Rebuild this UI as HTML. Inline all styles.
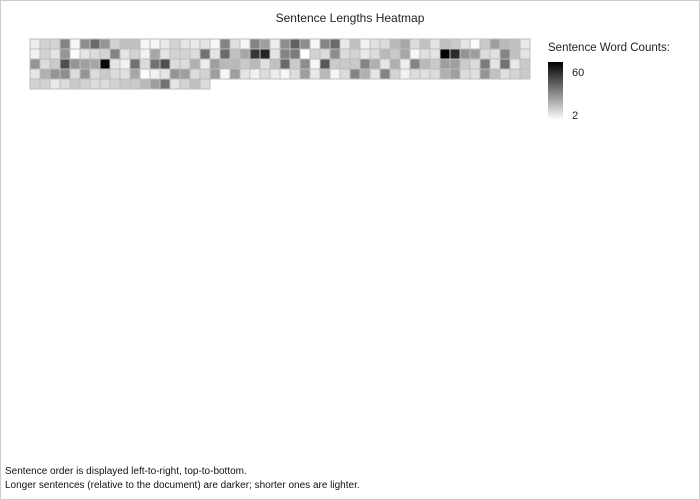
<!DOCTYPE html>
<html><head><meta charset="utf-8"><style>
body{margin:0;background:#fff;}
#wrap{position:relative;width:698px;height:498px;border:1px solid #ccc;font-family:"Liberation Sans",sans-serif;overflow:hidden;}
svg{position:absolute;left:0;top:0;}
</style></head><body>
<div id="wrap">
<svg id="chart" width="698" height="498">
<text x="349" y="21" text-anchor="middle" font-size="12" fill="#222">Sentence Lengths Heatmap</text>
<defs><linearGradient id="cb" x1="0" y1="0" x2="0" y2="1"><stop offset="0" stop-color="#000"/><stop offset="1" stop-color="#fff"/></linearGradient></defs>
<text x="547" y="50" font-size="11.5" fill="#222">Sentence Word Counts:</text>
<rect x="547" y="61" width="15" height="58" fill="url(#cb)"/>
<text x="571" y="75" font-size="11" fill="#222">60</text>
<text x="571" y="118" font-size="11" fill="#222">2</text>
<text x="4" y="473" font-size="10" fill="#111">Sentence order is displayed left-to-right, top-to-bottom.</text>
<text x="4" y="487" font-size="10" fill="#111">Longer sentences (relative to the document) are darker; shorter ones are lighter.</text>
<g id="cells"></g>
</svg>
</div>
<script>
const row1 = [6,12,12,30,4,28,36,26,12,16,16,4,4,7,12,8,7,8,4,30,9,4,30,24,6, 28,38,28,4,30,36,7,16,5,9,10,18,22,10,16,8,16,14,8,3,14,24,18,16,7];
const row2 = [5,12,8,26,3,8,10,12,30,8,12,5,22,8,12,12,10,34,8,36,16,22,48,52,8, 30,32,2,12,10,28,10,12,7,10,18,14,22,4,9,8,60,50,26,24,10,9,30,16,8];
const row3 = [26,10,14,42,26,24,22,58,8,5,34,10,34,42,10,10,20,6,24,18,18,14,18,9,16, 36,14,28,4,40,14,14,14,30,20,8,20,6,30,18,14,24,24,14,10,32,8,34,7,14];
const row4 = [8,20,26,28,10,26,10,14,10,9,22,3,5,8,26,24,10,12,24,4,24,8,5,10,6, 4,10,24,7,18,4,10,30,20,8,30,12,5,10,9,10,20,24,10,9,26,16,9,12,14];
const row5 = [12,12,7,10,14,12,10,10,12,14,14,18,24,34,8,12,16,10];
const wordCounts = row1.concat(row2, row3, row4, row5);
const minCount = 2, maxCount = 60;
const cols = 50, cell = 10, x0 = 29, y0 = 38;
const g = document.getElementById('cells');
function colorFor(v){
  const t = Math.max(0, Math.min(1, (v - minCount) / (maxCount - minCount)));
  const c = Math.round(255 * (1 - t));
  return `rgb(${c},${c},${c})`;
}
wordCounts.forEach((v, i) => {
  const r = document.createElementNS('http://www.w3.org/2000/svg', 'rect');
  r.setAttribute('x', x0 + (i % cols) * cell);
  r.setAttribute('y', y0 + Math.floor(i / cols) * cell);
  r.setAttribute('width', cell);
  r.setAttribute('height', cell);
  r.setAttribute('fill', colorFor(v));
  r.setAttribute('stroke', '#bdbdbd');
  r.setAttribute('stroke-width', '1');
  
  
  g.appendChild(r);
});
</script>
</body></html>
